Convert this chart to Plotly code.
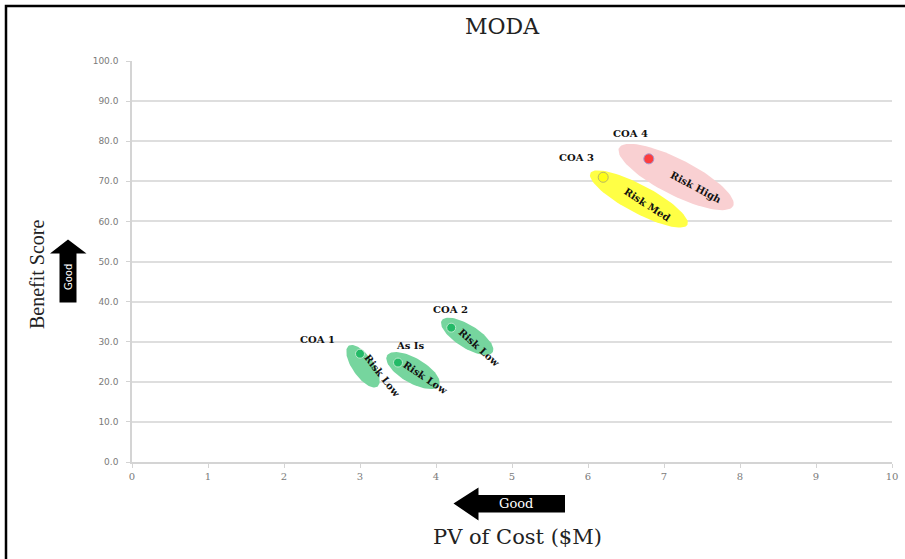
import numpy as np
import plotly.graph_objects as go

# ---- data -------------------------------------------------------------
names = ["As Is", "COA 1", "COA 2", "COA 3", "COA 4"]
cost = [3.5, 3.0, 4.2, 6.2, 6.8]            # PV of Cost ($M)
benefit = [24.8, 27.0, 33.5, 71.0, 75.6]    # Benefit Score
risk = ["Risk Low", "Risk Low", "Risk Low", "Risk Med", "Risk High"]
x_ticks = list(range(0, 11))
y_ticks = [0, 10, 20, 30, 40, 50, 60, 70, 80, 90, 100]

# ---- canvas / plot area (pixels) --------------------------------------
W, H = 905, 559
ML, MR, MT, MB = 132, 13, 61, 97
PW, PH = W - ML - MR, H - MT - MB
X_RANGE, Y_RANGE = [0, 10], [0, 100]
XPX = PW / (X_RANGE[1] - X_RANGE[0])
YPX = PH / (Y_RANGE[1] - Y_RANGE[0])

SERIF = "DejaVu Serif"

risk_colors = {
    "Risk Low": dict(fill="#76d59e", dot="#00b050", edge="#d9f2e0"),
    "Risk Med": dict(fill="#ffff45", dot="#ffff00", edge="#9a9a70"),
    "Risk High": dict(fill="#f9d0d2", dot="#ff0000", edge="#7f7fd0"),
}

# per-point decoration geometry, pixel offsets from the marker (y down)
decor = {
    "As Is": dict(ell=(15, 8, 30, 12.5, 30), name=(12, -17), tag=(27, 15, 34)),
    "COA 1": dict(ell=(3, 12.5, 25, 10.5, 55), name=(-43, -14), tag=(22, 21.5, 52)),
    "COA 2": dict(ell=(16, 8.7, 30, 11.5, 32), name=(-1, -18), tag=(28, 19.4, 42)),
    "COA 3": dict(ell=(35.7, 21.7, 55, 14, 28), name=(-26.5, -19.4), tag=(43.8, 27, 33)),
    "COA 4": dict(ell=(27.3, 18.2, 64, 18, 27), name=(-18.5, -25.8), tag=(47.5, 28.5, 28)),
}


def paper(px, py):
    """Pixel position on the page -> paper coordinates."""
    return (px - ML) / PW, (MT + PH - py) / PH


def ellipse(x0, y0, dx, dy, a, b, ang):
    t = np.linspace(0, 2 * np.pi, 90)
    th = np.radians(ang)
    ex = dx + a * np.cos(t) * np.cos(th) - b * np.sin(t) * np.sin(th)
    ey = dy + a * np.cos(t) * np.sin(th) + b * np.sin(t) * np.cos(th)
    return x0 + ex / XPX, y0 - ey / YPX


fig = go.Figure()

# risk ellipses (pink drawn first so the yellow one sits on top)
order = [4, 3, 0, 1, 2]
for i in order:
    ex, ey = ellipse(cost[i], benefit[i], *decor[names[i]]["ell"])
    fig.add_trace(go.Scatter(
        x=ex, y=ey, mode="lines", fill="toself",
        fillcolor=risk_colors[risk[i]]["fill"], line=dict(width=0),
        hoverinfo="skip", showlegend=False))

# alternative markers
fig.add_trace(go.Scatter(
    x=cost, y=benefit, mode="markers", text=names,
    marker=dict(size=[9, 9, 9, 10, 10],
                color=[risk_colors[r]["dot"] for r in risk],
                line=dict(width=1, color=[risk_colors[r]["edge"] for r in risk])),
    hovertemplate="%{text}<br>Cost: %{x}<br>Benefit: %{y}<extra></extra>",
    showlegend=False))

annotations = []
for i, n in enumerate(names):
    d = decor[n]
    annotations.append(dict(
        x=cost[i], y=benefit[i], xref="x", yref="y", text=n, showarrow=False,
        xanchor="center", yanchor="middle",
        xshift=d["name"][0], yshift=-d["name"][1],
        font=dict(family=SERIF, size=10, color="#111111", weight="bold")))
    annotations.append(dict(
        x=cost[i], y=benefit[i], xref="x", yref="y", text=risk[i], showarrow=False,
        xanchor="center", yanchor="middle",
        xshift=d["tag"][0], yshift=-d["tag"][1], textangle=d["tag"][2],
        font=dict(family=SERIF, size=10, color="#111111", weight="bold")))


def page_text(px, py, text, size, family=SERIF, color="#222222", angle=0):
    x, y = paper(px, py)
    annotations.append(dict(x=x, y=y, xref="paper", yref="paper", text=text,
                            xanchor="center", yanchor="middle", textangle=angle,
                            showarrow=False,
                            font=dict(family=family, size=size, color=color)))


# title and axis titles
page_text(502, 26.5, "MODA", 22)
page_text(517, 537, "PV of Cost ($M)", 21)
page_text(37, 274, "Benefit Score", 20, family="Liberation Serif", angle=-90)


# "Good" direction arrows
def arrow_path(points):
    pts = [paper(px, py) for px, py in points]
    return "M " + " L ".join(f"{x:.5f},{y:.5f}" for x, y in pts) + " Z"


up_arrow = [(68, 239.5), (86.5, 253.5), (76.5, 253.5), (76.5, 302.5),
            (59.5, 302.5), (59.5, 253.5), (50, 253.5)]
left_arrow = [(453.5, 503.5), (478.5, 487.5), (478.5, 495), (565, 495),
              (565, 512.5), (478.5, 512.5), (478.5, 520.5)]

shapes = [
    dict(type="path", xref="paper", yref="paper", path=arrow_path(up_arrow),
         fillcolor="#000000", line=dict(width=0)),
    dict(type="path", xref="paper", yref="paper", path=arrow_path(left_arrow),
         fillcolor="#000000", line=dict(width=0)),
]
bx0, by1 = paper(6, 6)
bx1, by0 = paper(960, 600)
shapes.append(dict(type="rect", xref="paper", yref="paper", x0=bx0, x1=bx1, y0=by0, y1=by1,
                   line=dict(color="#000000", width=2.5), fillcolor="rgba(0,0,0,0)"))

page_text(68, 277, "Good", 10, family="DejaVu Sans", color="#ffffff", angle=-90)
page_text(516, 504, "Good", 13, color="#ffffff")

fig.update_layout(
    width=W, height=H,
    margin=dict(l=ML, r=MR, t=MT, b=MB, autoexpand=False),
    paper_bgcolor="#ffffff", plot_bgcolor="#ffffff",
    annotations=annotations, shapes=shapes,
    xaxis=dict(range=X_RANGE, tickvals=x_ticks, ticktext=[str(v) for v in x_ticks],
               showgrid=False, zeroline=False, showline=True, linecolor="#d4d4d4",
               linewidth=1.5, ticks="outside", ticklen=4, tickcolor="#d4d4d4",
               tickfont=dict(family=SERIF, size=10, color="#7a7a7a"), fixedrange=True),
    yaxis=dict(range=Y_RANGE, tickvals=y_ticks, ticktext=[f"{v:.1f}" for v in y_ticks],
               showgrid=True, gridcolor="#dedede", gridwidth=1.5, zeroline=False,
               showline=True, linecolor="#d4d4d4", linewidth=1.5,
               ticks="outside", ticklen=4, tickcolor="#d4d4d4", ticklabelstandoff=6,
               tickfont=dict(family="DejaVu Sans", size=9, color="#7a7a7a"), fixedrange=True),
)

fig.write_html("out.html")
